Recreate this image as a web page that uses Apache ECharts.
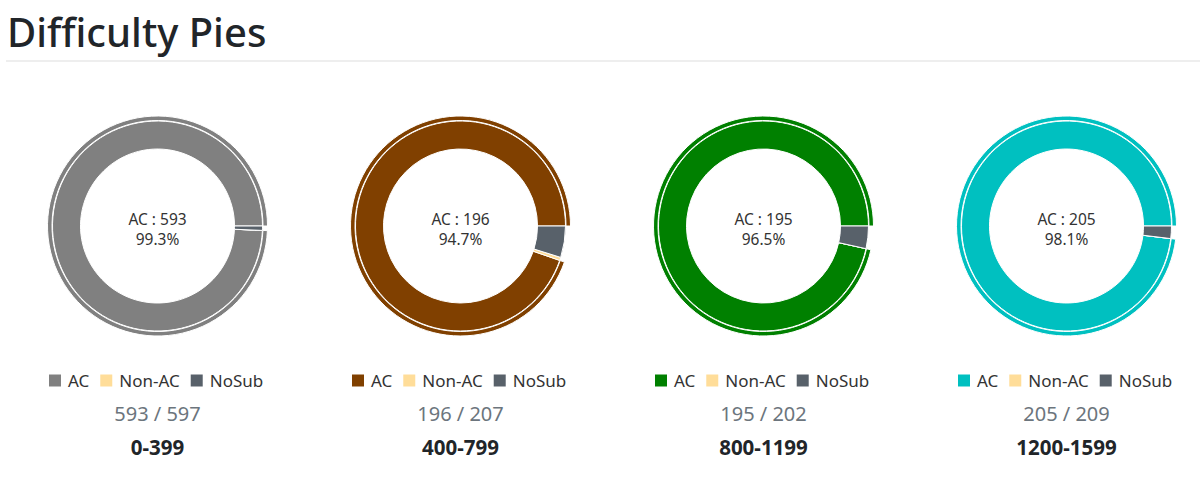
<!DOCTYPE html>
<html>
<head>
<meta charset="utf-8">
<script src="https://cdn.jsdelivr.net/npm/echarts@6/dist/echarts.min.js"></script>
<style>
  html, body { margin: 0; padding: 0; background: #fff; width: 1200px; height: 484px; overflow: hidden; font-family: "Noto Sans", sans-serif; }
  h1 { position: absolute; left: 7px; top: 4px; margin: 0; font-size: 40px; line-height: 56px; font-weight: 500; color: #212529; font-family: "Noto Sans", sans-serif; }
  .hr { position: absolute; left: 6px; top: 60px; width: 1194px; height: 0; border-top: 2px solid #eeeeee; }
  .col { position: absolute; top: 62px; width: 303px; height: 422px; }
</style>
</head>
<body>
<h1>Difficulty Pies</h1>
<div class="hr"></div>
<div id="c0" class="col"></div>
<div id="c1" class="col"></div>
<div id="c2" class="col"></div>
<div id="c3" class="col"></div>
<script>
// ---- data ----
const ranges = ["0-399", "400-799", "800-1199", "1200-1599"];
const acCounts = [593, 196, 195, 205];
const nonAcCounts = [0, 1, 0, 0];
const noSubCounts = [4, 10, 7, 4];
const categories = ["AC", "Non-AC", "NoSub"];
const acColors = ["#808080", "#804000", "#008000", "#00C0C0"];
const nonAcColor = "#FFDD99";
const noSubColor = "#58616A";
const centersX = [157, 460, 763, 1066];

ranges.forEach(function (range, i) {
  const el = document.getElementById("c" + i);
  el.style.left = (centersX[i] - 151.5) + "px";
  const chart = echarts.init(el, null, { renderer: "svg" });
  const ac = acCounts[i], nonAc = nonAcCounts[i], noSub = noSubCounts[i];
  const total = ac + nonAc + noSub;
  const colors = [acColors[i], nonAcColor, noSubColor];
  const values = [ac, nonAc, noSub];
  const cx = 151.5, cy = 164;
  const pct = (ac / total * 100).toFixed(1);
  chart.setOption({
    animation: false,
    legend: {
      left: 41,
      top: 310,
      padding: 0,
      icon: "rect",
      itemWidth: 14,
      itemHeight: 14,
      itemGap: 9,
      textStyle: { fontSize: 17, color: "#333", fontFamily: "Noto Sans", padding: [0, 0, 0, 1] },
      data: categories.map(function (c, k) { return { name: c, itemStyle: { color: colors[k] } }; })
    },
    series: [
      {
        type: "pie",
        center: [cx, cy],
        radius: [77, 105],
        startAngle: 0,
        clockwise: false,
        label: { show: false },
        labelLine: { show: false },
        emphasis: { disabled: true },
        silent: true,
        itemStyle: { borderColor: "#fff", borderWidth: 1 },
        data: categories.map(function (c, k) { return { name: c, value: values[k], itemStyle: { color: colors[k] } }; })
      },
      {
        type: "pie",
        center: [cx, cy],
        radius: [105.5, 110],
        startAngle: 0,
        clockwise: false,
        label: { show: false },
        labelLine: { show: false },
        emphasis: { disabled: true },
        silent: true,
        itemStyle: { borderColor: "#fff", borderWidth: 1 },
        data: [
          { name: "AC", value: ac, itemStyle: { color: acColors[i] } },
          { name: "rest", value: total - ac, itemStyle: { color: "rgba(0,0,0,0)", borderColor: "rgba(0,0,0,0)" } }
        ]
      }
    ],
    graphic: [
      { type: "text", x: cx, y: cy - 7, style: { text: "AC : " + ac, align: "center", verticalAlign: "middle", fontSize: 15.5, fill: "#333", fontFamily: "Noto Sans" } },
      { type: "text", x: cx, y: cy + 13, style: { text: pct + "%", align: "center", verticalAlign: "middle", fontSize: 15.5, fill: "#333", fontFamily: "Noto Sans" } },
      { type: "text", x: cx, y: 351, style: { text: ac + " / " + total, align: "center", verticalAlign: "middle", fontSize: 20, fill: "#6c757d", fontFamily: "Noto Sans" } },
      { type: "text", x: cx, y: 385, style: { text: range, align: "center", verticalAlign: "middle", fontSize: 20.5, fontWeight: "bold", fill: "#212529", fontFamily: "Noto Sans" } }
    ]
  });
});
</script>
</body>
</html>
